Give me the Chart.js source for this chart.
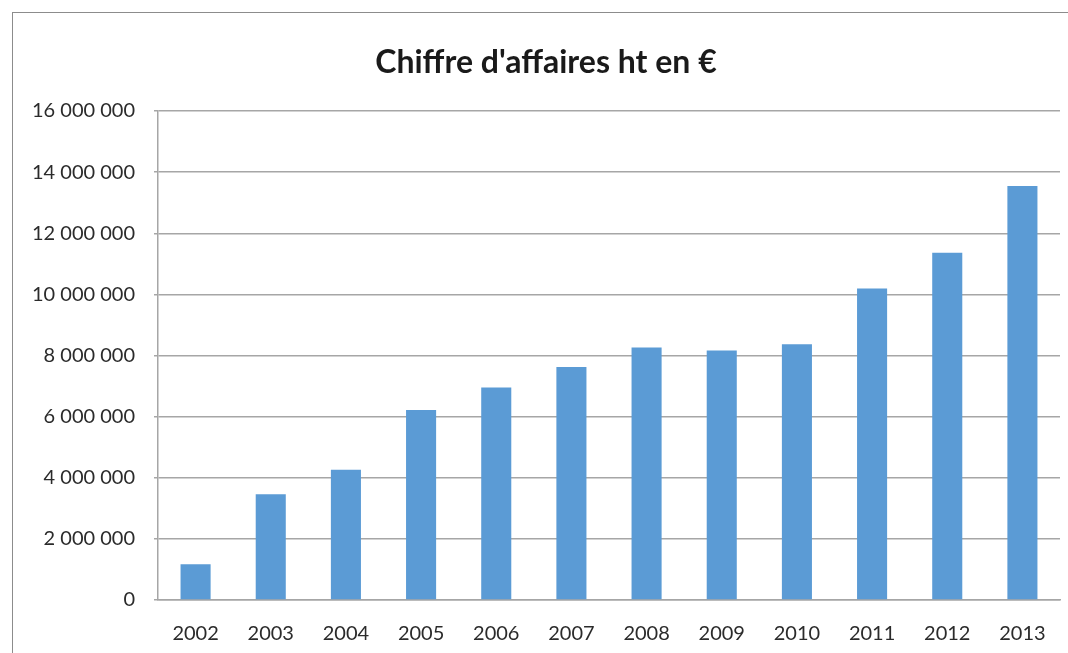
<!DOCTYPE html>
<html>
<head>
<meta charset="utf-8">
<script src="https://cdn.jsdelivr.net/npm/chart.js@4"></script>
<style>
  html, body { margin: 0; padding: 0; background: #fff; overflow: hidden; }
  #wrap { position: relative; width: 1068px; height: 653px; }
  #frame { position: absolute; left: 12px; top: 12px; width: 1200px; height: 800px;
           border: 1.5px solid #8c8c8c; box-sizing: border-box; pointer-events: none; }
  canvas { position: absolute; left: 0; top: 0; }
</style>
</head>
<body>
<div id="wrap">
  <canvas id="chart" width="1068" height="653"></canvas>
  <div id="frame"></div>
</div>
<script>
// chiffre d'affaires par année
const years = ['2002', '2003', '2004', '2005', '2006', '2007', '2008', '2009', '2010', '2011', '2012', '2013']
const revenue = [1170000, 3460000, 4260000, 6220000, 6950000, 7620000, 8260000, 8160000, 8370000, 10190000, 11360000, 13550000]
const yMax = 16000000
const yStep = 2000000

const formatNumber = (v) => String(v).replace(/\B(?=(\d{3})+(?!\d))/g, ' ')

const ctx = document.getElementById('chart').getContext('2d')

const chart = new Chart(ctx, {
  type: 'bar',
  data: {
    labels: years,
    datasets: [{
      data: revenue,
      backgroundColor: '#5b9bd5',
      barPercentage: 0.4,
      categoryPercentage: 1
    }]
  },
  options: {
    responsive: false,
    animation: false,
    layout: { padding: { left: 32, right: 8, top: 43, bottom: 0 } },
    plugins: {
      legend: { display: false },
      tooltip: { enabled: false },
      title: {
        display: true,
        text: "Chiffre d'affaires ht en €",
        color: '#1a1a1a',
        font: { family: 'Lato', size: 32, weight: 'bold' },
        padding: { top: 0, bottom: 29.6 }
      }
    },
    scales: {
      x: {
        grid: { display: false },
        border: { display: true, color: '#a6a6a6', width: 1.5 },
        ticks: { color: '#2b2b2b', font: { family: 'Lato', size: 20 }, padding: 14 },
        afterFit: (scale) => { scale.height = 53 }
      },
      y: {
        min: 0,
        max: yMax,
        ticks: {
          stepSize: yStep,
          color: '#2b2b2b',
          font: { family: 'Lato', size: 20 },
          padding: 19,
          callback: (v) => formatNumber(v)
        },
        grid: { color: '#a6a6a6', lineWidth: 1.5, tickLength: 4 },
        border: { display: true, color: '#a6a6a6', width: 1.5 },
        afterFit: (scale) => { scale.width = 126 }
      }
    }
  }
})
</script>
</body>
</html>
